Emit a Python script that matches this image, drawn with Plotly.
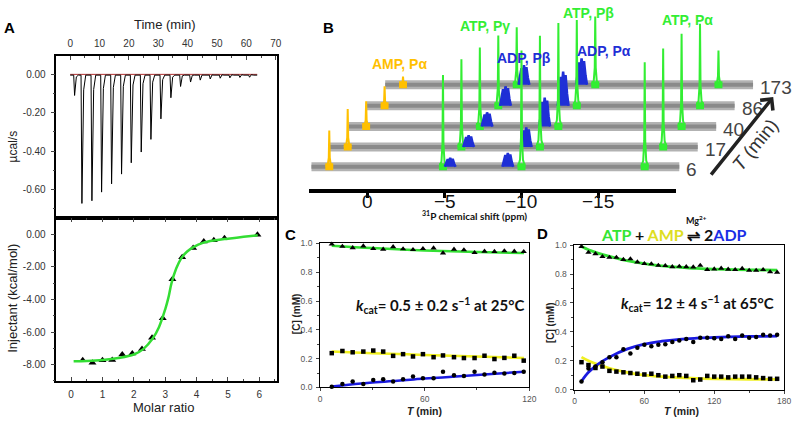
import plotly.graph_objects as go

W, H = 800, 421
def px(x): return x / W
def py(y): return 1 - y / H

ARIAL = "Liberation Sans, Arial, sans-serif"
CAL = "Lato, Open Sans, sans-serif"

# ---------------- Panel A : ITC ----------------
itc_inj_time = [1.2, 3.7, 7.1, 10.4, 13.8, 17.2, 20.5, 23.9, 27.2, 30.6, 34.0, 37.3,
                40.7, 44.0, 47.4, 50.8, 54.1, 57.5, 60.8]
itc_inj_depth = [-0.11, -0.673, -0.659, -0.614, -0.571, -0.520, -0.461, -0.405, -0.339,
                 -0.232, -0.122, -0.063, -0.040, -0.030, -0.024, -0.020, -0.018, -0.016, -0.015]
itc_end_time = 63.7
molar_ratio = [0.37, 0.68, 1.00, 1.31, 1.63, 1.95, 2.26, 2.58, 2.92, 3.23, 3.54, 3.89,
               4.23, 4.55, 4.89, 5.94]
injectant = [-7.74, -7.88, -7.74, -7.72, -7.38, -7.32, -7.04, -6.35, -5.15, -2.75, -1.40,
             -0.84, -0.44, -0.36, -0.24, -0.02]
fit_ratio = [0.08, 0.5, 1.0, 1.5, 2.0, 2.3, 2.6, 2.8, 3.0, 3.1, 3.2, 3.35, 3.5, 3.7, 3.9,
             4.2, 4.6, 5.0, 5.5, 5.95]
fit_injectant = [-7.8, -7.78, -7.72, -7.6, -7.38, -7.05, -6.4, -5.7, -4.6, -3.9, -3.0,
                 -2.1, -1.5, -1.05, -0.78, -0.52, -0.36, -0.26, -0.15, -0.05]
a_time_ticks = [0, 10, 20, 30, 40, 50, 60, 70]
a_top_yticks = [0, -0.2, -0.4, -0.6]
a_top_ytext = ["0.00", "-0.20", "-0.40", "-0.60"]
a_bot_yticks = [0, -2, -4, -6, -8]
a_bot_ytext = ["0.00", "-2.00", "-4.00", "-6.00", "-8.00"]
a_ratio_ticks = [0, 1, 2, 3, 4, 5, 6]

# ---------------- Panel B : stacked 31P spectra ----------------
spec_times = [6, 17, 40, 86, 173]
spec_shift = [0.0, -1.2, -2.4, -3.6, -4.8]        # ppm offset of each stacked trace
spec_offset = [22.6, 42.8, 63.8, 85.0, 106.6]      # vertical offset of each trace
spec_extent = [3.67, -20.27]                       # ppm extent of front trace
peak_ppm = [2.51, -4.89, -5.36, -9.11, -10.0, -18.02]
peak_species = ["AMP", "ATP", "ADP", "ADP", "ATP", "ATP"]
peak_heights = [
    [37, 39, 26, 20, 8.4],      # AMP Pa
    [94, 90, 81, 72, 59],       # ATP Pg
    [9, 12, 14.5, 20, 20],      # ADP Pb
    [14, 20, 29.5, 35, 27],     # ADP Pa
    [119, 114, 106, 88, 70],    # ATP Pb
    [107, 101, 95, 84, 35],     # ATP Pa
]
b_ticks = [0, -5, -10, -15]
b_ticktext = ["0", "\u22125", "\u221210", "\u221215"]

# ---------------- Panel C : 25 C kinetics ----------------
c_T = [6.7, 12.8, 18.7, 24.8, 30.5, 36.2, 41.9, 47.6, 53.3, 59.0, 65.1, 70.5, 76.8, 82.5,
       88.6, 94.3, 100.0, 105.7, 111.4, 116.8]
c_atp = [0.995, 0.98, 0.97, 0.982, 0.964, 0.96, 0.977, 0.962, 0.957, 0.964, 0.968, 0.934,
         0.96, 0.955, 0.936, 0.946, 0.944, 0.948, 0.946, 0.943]
c_amp = [0.238, 0.253, 0.244, 0.249, 0.256, 0.249, 0.219, 0.231, 0.215, 0.231, 0.21, 0.222,
         0.21, 0.204, 0.204, 0.22, 0.197, 0.205, 0.22, 0.186]
c_adp = [0.005, 0.023, 0.041, 0.023, 0.052, 0.057, 0.041, 0.057, 0.075, 0.063, 0.063, 0.109,
         0.084, 0.079, 0.109, 0.09, 0.102, 0.097, 0.1, 0.109]
c_fit_T = [6.7, 30, 60, 90, 117]
c_fit_atp = [0.985, 0.968, 0.952, 0.941, 0.934]
c_fit_amp = [0.249, 0.238, 0.226, 0.214, 0.204]
c_fit_adp = [0.007, 0.034, 0.061, 0.086, 0.109]

# ---------------- Panel D : 65 C kinetics ----------------
d_T = [6, 12, 18, 24, 30, 36, 42, 48, 54, 60, 66, 72, 78, 84, 90, 96, 102, 108, 114, 120,
       126, 132, 138, 144, 150, 156, 162, 168, 174]
d_atp = [0.99, 0.95, 0.94, 0.92, 0.915, 0.915, 0.90, 0.905, 0.883, 0.872, 0.87, 0.86, 0.858,
         0.85, 0.853, 0.85, 0.848, 0.86, 0.83, 0.835, 0.84, 0.833, 0.83, 0.838, 0.825, 0.825,
         0.83, 0.815, 0.812]
d_amp = [0.19, 0.17, 0.15, 0.16, 0.13, 0.125, 0.12, 0.115, 0.11, 0.105, 0.11, 0.10, 0.09,
         0.095, 0.10, 0.095, 0.065, 0.07, 0.095, 0.09, 0.09, 0.085, 0.09, 0.09, 0.09, 0.085,
         0.08, 0.075, 0.075]
d_adp = [0.056, 0.146, 0.16, 0.19, 0.225, 0.225, 0.28, 0.25, 0.29, 0.31, 0.30, 0.31, 0.315,
         0.33, 0.34, 0.35, 0.33, 0.36, 0.36, 0.355, 0.35, 0.37, 0.35, 0.375, 0.36, 0.365,
         0.38, 0.375, 0.38]
d_fit_T = [6, 12, 20, 30, 45, 60, 75, 90, 105, 120, 150, 174]
d_fit_atp = [0.99, 0.968, 0.945, 0.922, 0.893, 0.872, 0.857, 0.847, 0.839, 0.834, 0.829, 0.827]
d_fit_amp = [0.225, 0.2, 0.175, 0.148, 0.12, 0.1, 0.09, 0.083, 0.078, 0.075, 0.072, 0.071]
d_fit_adp = [0.058, 0.12, 0.175, 0.225, 0.28, 0.315, 0.335, 0.348, 0.356, 0.362, 0.368, 0.37]

# ---------------- styles ----------------
B_COL = {"ATP": "#33ee33", "ADP": "#1f2fd6", "AMP": "#ffc000"}
FIT_COL = {"ATP": "#33e033", "ADP": "#1a1ae0", "AMP": "#f0f020"}
PX_PER_PPM = 77.7 / 5
spike_dx = [-3.5, -1.5, -0.5, 0, 0.5, 1.5, 3.5]
spike_fy = [0, 0.06, 0.25, 1, 0.25, 0.06, 0]
blob_dx = [-5.5, -4, -2.5, -1.2, 0, 1.2, 2.5, 4, 5.5]
blob_fy = [0, 0.4, 0.85, 0.6, 1.0, 0.65, 0.9, 0.35, 0]

fig = go.Figure()

# ---- Panel A top: raw ITC thermogram ----
itc_x, itc_y = [0], [-0.004]
for t, d in zip(itc_inj_time, itc_inj_depth):
    itc_x += [t, t + 0.3, t + 0.9, t + 1.6]
    itc_y += [-0.004, d, d * 0.12, -0.004]
itc_x.append(itc_end_time)
itc_y.append(-0.004)
fig.add_trace(go.Scatter(x=[0, itc_end_time], y=[0, 0], mode="lines",
                         line=dict(color="#b03030", width=1), xaxis="x", yaxis="y"))
fig.add_trace(go.Scatter(x=itc_x, y=itc_y, mode="lines",
                         line=dict(color="black", width=1), xaxis="x", yaxis="y"))

# ---- Panel A bottom: binding isotherm ----
fig.add_trace(go.Scatter(x=molar_ratio, y=injectant, mode="markers",
                         marker=dict(symbol="triangle-up", size=7, color="black"),
                         xaxis="x2", yaxis="y2", cliponaxis=False))
fig.add_trace(go.Scatter(x=fit_ratio, y=fit_injectant, mode="lines", line_shape="spline",
                         line=dict(color="#33dd33", width=2.5), xaxis="x2", yaxis="y2"))

# ---- Panel B: spectra (back to front) ----
fig.add_trace(go.Scatter(x=[], y=[], xaxis="x3", yaxis="y3"))
for k in reversed(range(len(spec_times))):
    base = spec_offset[k]
    sh = spec_shift[k]
    fig.add_trace(go.Scatter(x=[spec_extent[0] + sh, spec_extent[1] + sh], y=[base, base],
                             mode="lines", line=dict(color="#b2b2b2", width=9),
                             xaxis="x6", yaxis="y3"))
    fig.add_trace(go.Scatter(x=[spec_extent[0] + sh, spec_extent[1] + sh], y=[base, base],
                             mode="lines", line=dict(color="#8a8a8a", width=4),
                             xaxis="x6", yaxis="y3"))
    for p, sp, hts in zip(peak_ppm, peak_species, peak_heights):
        c = p + sh
        h = hts[k]
        col = B_COL[sp]
        if sp == "ADP":
            xs = [c - dx / PX_PER_PPM for dx in blob_dx]
            ys = [base + h * f for f in blob_fy]
            fig.add_trace(go.Scatter(x=xs, y=ys, mode="lines", fill="toself", fillcolor=col,
                                     line=dict(color=col, width=2.5), xaxis="x6", yaxis="y3"))
        else:
            fig.add_trace(go.Scatter(x=[c + 4 / PX_PER_PPM, c - 4 / PX_PER_PPM], y=[base, base],
                                     mode="lines", line=dict(color=col, width=7),
                                     xaxis="x6", yaxis="y3"))
            xs = [c - dx / PX_PER_PPM for dx in spike_dx]
            ys = [base + h * f for f in spike_fy]
            fig.add_trace(go.Scatter(x=xs, y=ys, mode="lines",
                                     line=dict(color=col, width=2), xaxis="x6", yaxis="y3"))

# ---- Panel C ----
for vals, key in [(c_fit_atp, "ATP"), (c_fit_amp, "AMP"), (c_fit_adp, "ADP")]:
    fig.add_trace(go.Scatter(x=c_fit_T, y=vals, mode="lines", line_shape="spline",
                             line=dict(color=FIT_COL[key], width=2.5), xaxis="x4", yaxis="y4"))
for vals, sym, sz in [(c_atp, "triangle-up", 5.5), (c_amp, "square", 4.5), (c_adp, "circle", 4.5)]:
    fig.add_trace(go.Scatter(x=c_T, y=vals, mode="markers", cliponaxis=False,
                             marker=dict(symbol=sym, size=sz, color="black"),
                             xaxis="x4", yaxis="y4"))

# ---- Panel D ----
for vals, key in [(d_fit_atp, "ATP"), (d_fit_amp, "AMP"), (d_fit_adp, "ADP")]:
    fig.add_trace(go.Scatter(x=d_fit_T, y=vals, mode="lines", line_shape="spline",
                             line=dict(color=FIT_COL[key], width=2.8), xaxis="x5", yaxis="y5"))
for vals, sym, sz in [(d_atp, "triangle-up", 5.5), (d_amp, "square", 4.5), (d_adp, "circle", 4.5)]:
    fig.add_trace(go.Scatter(x=d_T, y=vals, mode="markers", cliponaxis=False,
                             marker=dict(symbol=sym, size=sz, color="black"),
                             xaxis="x5", yaxis="y5"))

# ---------------- axes ----------------
a_tick = dict(size=10, color="#333", family=ARIAL)
cd_tick = dict(size=8.5, color="#555", family=ARIAL)
common = dict(showgrid=False, zeroline=False, showline=True, linecolor="black")

fig.update_layout(
    xaxis=dict(domain=[px(55), px(278)], range=[-4.7, 70.4], side="top", anchor="y",
               tickvals=a_time_ticks, ticks="inside", ticklen=4, tickwidth=1.2,
               minor=dict(dtick=5, tick0=0, ticks="inside", ticklen=2),
               linewidth=1.5, mirror=True, tickfont=a_tick, ticklabelstandoff=3, **common),
    yaxis=dict(domain=[py(218), py(52)], range=[-0.748, 0.097], anchor="x",
               tickvals=a_top_yticks, ticktext=a_top_ytext, ticks="outside", ticklen=4,
               tickwidth=1.2, minor=dict(tickvals=[-0.1, -0.3, -0.5, -0.7], ticks="outside", ticklen=2),
               linewidth=1.5, mirror=True, tickfont=a_tick, ticklabelstandoff=3, **common),
    xaxis2=dict(domain=[px(55), px(278)], range=[-0.47, 6.56], anchor="y2",
                tickvals=a_ratio_ticks, ticks="inside", ticklen=4, tickwidth=1.2,
                minor=dict(dtick=0.5, tick0=0, ticks="inside", ticklen=2),
                linewidth=1.5, mirror="ticks", tickfont=a_tick, ticklabelstandoff=3, **common),
    yaxis2=dict(domain=[py(385), py(218)], range=[-9, 1.02], anchor="x2",
                tickvals=a_bot_yticks, ticktext=a_bot_ytext, ticks="outside", ticklen=4,
                tickwidth=1.2, minor=dict(tickvals=[-1, -3, -5, -7, -9], ticks="outside", ticklen=2),
                linewidth=1.5, mirror=True, tickfont=a_tick, ticklabelstandoff=3, **common),
    xaxis3=dict(domain=[px(310), px(681.7)], range=[3.863, -20.07], anchor="y3",
                tickvals=b_ticks, showticklabels=False, ticks="outside", ticklen=5, tickwidth=2.5,
                tickcolor="black", linewidth=3.5, **common),
    xaxis6=dict(domain=[px(296), 1.0], range=[(370 - 296) / PX_PER_PPM, (370 - 800) / PX_PER_PPM],
                anchor="y3", visible=False),
    yaxis3=dict(domain=[py(188.3), 1.0], range=[0, 188.3], anchor="x3", visible=False),
    xaxis4=dict(domain=[px(321.7), px(533.3)], range=[0, 120], anchor="y4",
                tickvals=[0, 60, 120], ticks="outside", ticklen=3, tickwidth=1,
                minor=dict(dtick=30, tick0=0, ticks="outside", ticklen=2),
                linewidth=1, mirror=True, tickfont=cd_tick, ticklabelstandoff=0, **common),
    yaxis4=dict(domain=[py(391.7), py(244.3)], range=[0, 1], anchor="x4",
                tickvals=[0, 0.2, 0.4, 0.6, 0.8, 1.0], ticktext=["0.0", "0.2", "0.4", "0.6", "0.8", "1.0"],
                ticks="outside", ticklen=3, tickwidth=1,
                minor=dict(dtick=0.1, tick0=0, ticks="outside", ticklen=2),
                linewidth=1, mirror=True, tickfont=cd_tick, ticklabelstandoff=2, **common),
    xaxis5=dict(domain=[px(579), px(791)], range=[0, 180], anchor="y5",
                tickvals=[0, 60, 120, 180], ticks="outside", ticklen=3, tickwidth=1,
                minor=dict(dtick=30, tick0=0, ticks="outside", ticklen=2),
                linewidth=1, mirror=True, tickfont=cd_tick, ticklabelstandoff=0, **common),
    yaxis5=dict(domain=[py(394), py(246)], range=[0, 1], anchor="x5",
                tickvals=[0, 0.2, 0.4, 0.6, 0.8, 1.0], ticktext=["0.0", "0.2", "0.4", "0.6", "0.8", "1.0"],
                ticks="outside", ticklen=3, tickwidth=1,
                minor=dict(dtick=0.1, tick0=0, ticks="outside", ticklen=2),
                linewidth=1, mirror=True, tickfont=cd_tick, ticklabelstandoff=2, **common),
)

# ---------------- annotations ----------------
ann = []
def text(x, y, t, size, color="black", bold=False, family=ARIAL, angle=0, xanchor="center", yanchor="middle"):
    ann.append(dict(x=px(x), y=py(y), xref="paper", yref="paper", text=(f"<b>{t}</b>" if bold else t),
                    showarrow=False, font=dict(size=size, color=color, family=family),
                    textangle=angle, xanchor=xanchor, yanchor=yanchor))

# panel letters
text(8, 23, "A", 15, bold=True)
text(330, 23, "B", 15, bold=True)
text(292, 235, "C", 15, bold=True)
text(547, 234, "D", 15, bold=True)

# panel A titles
text(165, 20, "Time (min)", 13, "#222")
text(11, 145, "\u00b5cal/s", 12, "#222", angle=-90)
text(11, 300, "Injectant (kcal/mol)", 13, "#222", angle=-90)
text(163, 412, "Molar ratio", 13, "#222")

# panel B tick labels (on the ppm axis) and title
for v, t in zip(b_ticks, b_ticktext):
    ann.append(dict(x=v, y=py(201.5), xref="x3", yref="paper", text=t, showarrow=False,
                    xanchor="center", yanchor="middle", font=dict(size=19, color="#111", family=ARIAL)))
text(478, 215.5, "<sup>31</sup>P chemical shift (ppm)", 10, "#111", bold=True, family=CAL)

# panel B peak labels
text(401.7, 60, "AMP, P\u03b1", 14, B_COL["AMP"], bold=True)
text(488.3, 22, "ATP, P\u03b3", 14, B_COL["ATP"], bold=True)
text(527.5, 54, "ADP, P\u03b2", 14, B_COL["ADP"], bold=True)
text(593.3, 8, "ATP, P\u03b2", 14, B_COL["ATP"], bold=True)
text(609, 47, "ADP, P\u03b1", 14, B_COL["ADP"], bold=True)
text(693.3, 15, "ATP, P\u03b1", 14, B_COL["ATP"], bold=True)

# spectrum time labels
for k, tt in enumerate(spec_times):
    ann.append(dict(x=spec_extent[1] + spec_shift[k], y=spec_offset[k] - 3, xref="x6", yref="y3",
                    text=str(tt), showarrow=False, xanchor="left", yanchor="middle", xshift=5,
                    font=dict(size=19, color="#444", family=ARIAL)))

# time arrow
ann.append(dict(x=px(780), y=py(94.3), xref="paper", yref="paper", ax=-63.3, ay=79,
                showarrow=True, arrowhead=4, arrowsize=0.9, arrowwidth=3.5, arrowcolor="#222", text=""))
text(762, 143, "<i>T</i> (min)", 19, "#333", angle=-51)

# panel C / D titles
text(298, 316, "[C] (mM)", 10, "#222", bold=True, angle=-90)
text(427, 415.5, "<i>T</i> (min)", 10.5, "#222", bold=True)
text(555, 325, "[C] (mM)", 10, "#222", bold=True, angle=-90)
text(687, 415.5, "<i>T</i> (min)", 10.5, "#222", bold=True)
text(442.5, 308, "<i>k</i><sub>cat</sub>= 0.5 \u00b1 0.2 s<sup>\u22121</sup> at 25\u00b0C", 15, "#111", bold=True, family=CAL)
text(703, 306, "<i>k</i><sub>cat</sub>= 12 \u00b1 4 s<sup>\u22121</sup> at 65\u00b0C", 15, "#111", bold=True, family=CAL)
text(680, 235, "<span style='color:#33e633'>ATP</span> + <span style='color:#dede22'>AMP</span> \u21cc 2<span style='color:#1a2ee6'>ADP</span>",
     16, "#111", bold=True, family=CAL)
text(702, 220, "Mg<sup>2+</sup>", 9, "#111", bold=True, family=CAL)

fig.update_layout(annotations=ann, width=W, height=H, autosize=False,
                  margin=dict(l=0, r=0, t=0, b=0), showlegend=False,
                  paper_bgcolor="white", plot_bgcolor="white")

fig.write_html("out.html", config={"displayModeBar": False},
               post_script="document.body.style.margin='0px';")
